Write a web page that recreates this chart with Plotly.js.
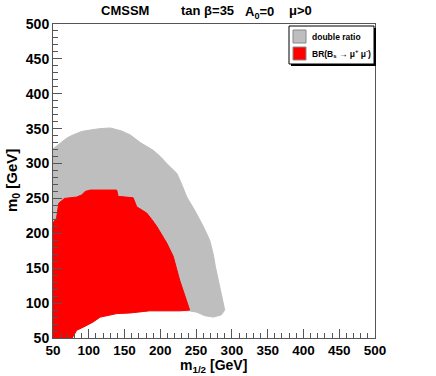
<!DOCTYPE html>
<html>
<head>
<meta charset="utf-8">
<script src="https://cdn.plot.ly/plotly-3.0.1.min.js"></script>
<style>
  html, body { margin: 0; padding: 0; background: #fff; }
  #chart { width: 436px; height: 376px; }
</style>
</head>
<body>
<div id="chart"></div>
<script>
// region boundaries (m1/2, m0) in GeV
const doubleRatioM12 = [50, 55, 60, 70, 78, 90, 102, 115, 130, 145, 158, 172, 190, 200, 209, 223, 230, 237, 248, 260, 269, 274, 277, 283, 288, 290, 285, 274, 262, 251, 240, 185, 158, 139, 116, 106, 95, 83, 78, 76, 50];
const doubleRatioM0  = [321, 325, 330, 337, 341, 346, 348, 350, 351, 347, 341, 330, 319, 310, 300, 286, 270, 252, 233, 210, 190, 170, 152, 124, 100, 90, 83, 80, 82, 87, 89, 89, 86, 85, 80, 73, 67, 61, 52, 50, 50];

const brM12 = [50, 50, 55, 58, 66, 83, 90, 95, 102, 139, 141, 162, 167, 181, 188, 195, 209, 218, 227, 232, 237, 241, 227, 185, 158, 139, 116, 106, 95, 83, 78, 77, 50];
const brM0  = [50, 215, 222, 243, 250, 252, 255, 260, 262, 262, 253, 251, 238, 229, 220, 210, 186, 167, 133, 118, 105, 90, 89, 89, 86, 85, 80, 73, 67, 61, 52, 50, 50];

const axisTicks = [50, 100, 150, 200, 250, 300, 350, 400, 450, 500];

const FONT = 'Liberation Sans, Arial, Helvetica, sans-serif';
const GRAY = '#bebebe';
const RED = '#ff0000';
const FRAME = '#555555';

const traces = [
  {
    x: doubleRatioM12, y: doubleRatioM0,
    type: 'scatter', mode: 'lines', fill: 'toself',
    fillcolor: GRAY, line: {color: GRAY, width: 1},
    name: 'double ratio', hoverinfo: 'skip'
  },
  {
    x: brM12, y: brM0,
    type: 'scatter', mode: 'lines', fill: 'toself',
    fillcolor: RED, line: {color: RED, width: 1},
    name: 'BR', hoverinfo: 'skip'
  }
];

function axis(size) {
  return {
    range: [50, 500],
    tickvals: axisTicks,
    ticktext: axisTicks.map(String),
    ticks: 'inside', ticklen: 9, tickcolor: FRAME, tickwidth: 1,
    minor: {dtick: 10, tick0: 50, ticks: 'inside', ticklen: 5, tickcolor: FRAME, tickwidth: 1, showgrid: false},
    showline: true, mirror: true, linecolor: FRAME, linewidth: 1,
    showgrid: false, zeroline: false,
    tickfont: {family: FONT, size: size, weight: 'bold', color: '#000'}
  };
}

const xaxis = axis(13.5);
const yaxis = axis(14);

// px -> paper helpers
const px = v => (v - 53) / 322;
const py = v => (338 - v) / 314;

const ann = (text, x, y, size, extra) => Object.assign({
  text: text, xref: 'paper', yref: 'paper', x: px(x), y: py(y),
  showarrow: false, xanchor: 'center', yanchor: 'middle', borderpad: 0,
  font: {family: FONT, size: size, weight: 'bold', color: '#000'}
}, extra || {});

const layout = {
  width: 436, height: 376,
  margin: {l: 53, r: 61, t: 24, b: 38},
  paper_bgcolor: '#fff', plot_bgcolor: '#fff',
  showlegend: false,
  xaxis: xaxis, yaxis: yaxis,
  annotations: [
    ann('CMSSM', 125, 11, 13),
    ann('tan β=35', 207, 11, 13),
    ann('A<sub>0</sub>=0', 259, 13, 13),
    ann('μ>0', 300, 11, 13),
    ann('m<sub>1/2</sub> [GeV]', 213, 366, 14),
    ann('m<sub>0</sub> [GeV]', 12, 181, 15, {textangle: -90}),
    ann('double ratio', 311, 37, 8.5, {xanchor: 'left'}),
    ann('BR(B<sub>s</sub> → μ<sup>+</sup> μ<sup>-</sup>)', 311, 54, 8.5, {xanchor: 'left'})
  ],
  shapes: [
    // legend shadow + box
    {type: 'rect', xref: 'paper', yref: 'paper', x0: px(291), x1: px(376), y0: py(28), y1: py(66),
     fillcolor: '#000', line: {width: 0}, layer: 'above'},
    {type: 'rect', xref: 'paper', yref: 'paper', x0: px(289), x1: px(374), y0: py(26), y1: py(64),
     fillcolor: '#fff', line: {color: '#000', width: 1}, layer: 'above'},
    {type: 'rect', xref: 'paper', yref: 'paper', x0: px(293), x1: px(306), y0: py(30), y1: py(43),
     fillcolor: GRAY, line: {color: '#888', width: 1}, layer: 'above'},
    {type: 'rect', xref: 'paper', yref: 'paper', x0: px(293), x1: px(306), y0: py(47), y1: py(60),
     fillcolor: RED, line: {color: '#888', width: 1}, layer: 'above'}
  ]
};

Plotly.newPlot('chart', traces, layout, {staticPlot: true, displayModeBar: false});
</script>
</body>
</html>
